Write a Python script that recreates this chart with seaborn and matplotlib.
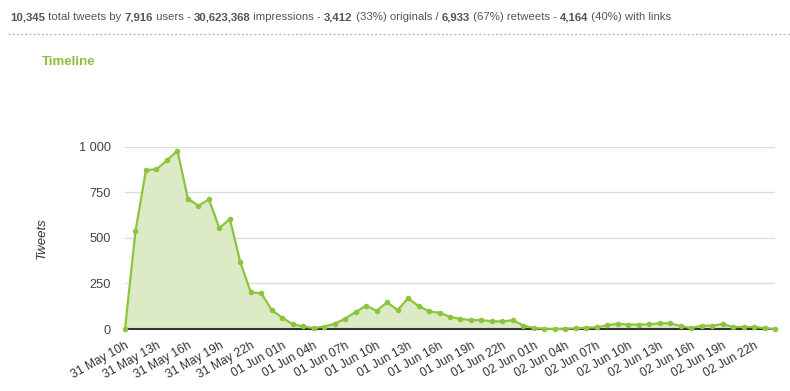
import numpy as np
import pandas as pd
import matplotlib.pyplot as plt
import seaborn as sns

# hourly tweet counts, 31 May 10h onwards
tweets = [
    0, 536, 872, 876, 925, 978, 715, 676, 711, 554, 603, 367, 201, 196, 104,
    62, 26, 14, 5, 13, 29, 57, 93, 128, 100, 146, 104, 168, 126, 97, 89, 67,
    55, 49, 49, 42, 42, 48, 19, 5, 2, 0, 2, 4, 7, 9, 20, 29, 24, 24, 26, 31,
    31, 16, 5, 18, 18, 27, 11, 11, 11, 5, 0,
]
tick_labels = [
    "31 May 10h", "31 May 13h", "31 May 16h", "31 May 19h", "31 May 22h",
    "01 Jun 01h", "01 Jun 04h", "01 Jun 07h", "01 Jun 10h", "01 Jun 13h",
    "01 Jun 16h", "01 Jun 19h", "01 Jun 22h",
    "02 Jun 01h", "02 Jun 04h", "02 Jun 07h", "02 Jun 10h", "02 Jun 13h",
    "02 Jun 16h", "02 Jun 19h", "02 Jun 22h",
]
y_ticks = [0, 250, 500, 750, 1000]
y_tick_labels = ["0", "250", "500", "750", "1 000"]

header = [
    ("10,345", True), (" total tweets by ", False), ("7,916", True),
    (" users - ", False), ("30,623,368", True), (" impressions - ", False),
    ("3,412", True), (" (33%) originals / ", False), ("6,933", True),
    (" (67%) retweets - ", False), ("4,164", True), (" (40%) with links", False),
]

GREEN = "#8cc43c"
FILL = "#dcebc6"

df = pd.DataFrame({"hour": np.arange(len(tweets)), "tweets": tweets})

sns.set_theme(style="white")
plt.rcParams["font.family"] = ["Liberation Sans", "DejaVu Sans"]

fig = plt.figure(figsize=(7.9, 3.91), dpi=100)
ax = fig.add_axes([125 / 790, 1 - 329 / 391, 650 / 790, (329 - 146.7) / 391])

ax.fill_between(df["hour"], df["tweets"], color=FILL, lw=0, zorder=1)
sns.lineplot(data=df, x="hour", y="tweets", ax=ax, color=GREEN, lw=1.6,
             marker="o", markersize=4, markeredgewidth=0, zorder=3,
             clip_on=False)

ax.set_xlim(0, len(tweets) - 1)
ax.set_ylim(0, 1000)
ax.set_yticks(y_ticks, y_tick_labels, fontsize=9.2, color="#444444")
ax.set_xticks(np.arange(0, len(tweets) - 1, 3))
ax.set_xticklabels(tick_labels, rotation=29, ha="right", va="top",
                   rotation_mode="anchor", fontsize=8.7, color="#333333")
ax.tick_params(axis="x", length=0, pad=8)
ax.tick_params(axis="y", length=0, pad=10)
ax.grid(axis="y", color="#dddddd", lw=1)
ax.grid(axis="x", visible=False)
for side in ["top", "right", "left"]:
    ax.spines[side].set_visible(False)
ax.spines["bottom"].set_color("#333333")
ax.spines["bottom"].set_linewidth(1.5)
ax.spines["bottom"].set_zorder(2)
ax.set_xlabel("")
ax.set_ylabel("Tweets", fontsize=9.5, style="italic", color="#333333")
ax.yaxis.set_label_coords(-77 / 650, 0.5)

# header line with bold numbers
prev = ax.annotate(header[0][0], xy=(10 / 790, 1 - 17 / 391), xycoords="figure fraction",
                   fontsize=8.2, fontweight="bold", color="#555555",
                   ha="left", va="center", annotation_clip=False)
for txt, bold in header[1:]:
    prev = ax.annotate(txt, xy=(1, 0), xycoords=prev, fontsize=8.2,
                       fontweight="bold" if bold else "normal", color="#555555",
                       ha="left", va="bottom", annotation_clip=False)

fig.add_artist(plt.Line2D([8 / 790, 1], [1 - 34 / 391] * 2, transform=fig.transFigure,
                          color="#bbbbbb", lw=1, ls=(0, (1.5, 1.5))))
fig.text(42 / 790, 1 - 62 / 391, "Timeline", fontsize=9.5, fontweight="bold",
         color="#8cbf3f", ha="left", va="center")

fig.savefig("out.png", dpi=100)
plt.close(fig)
